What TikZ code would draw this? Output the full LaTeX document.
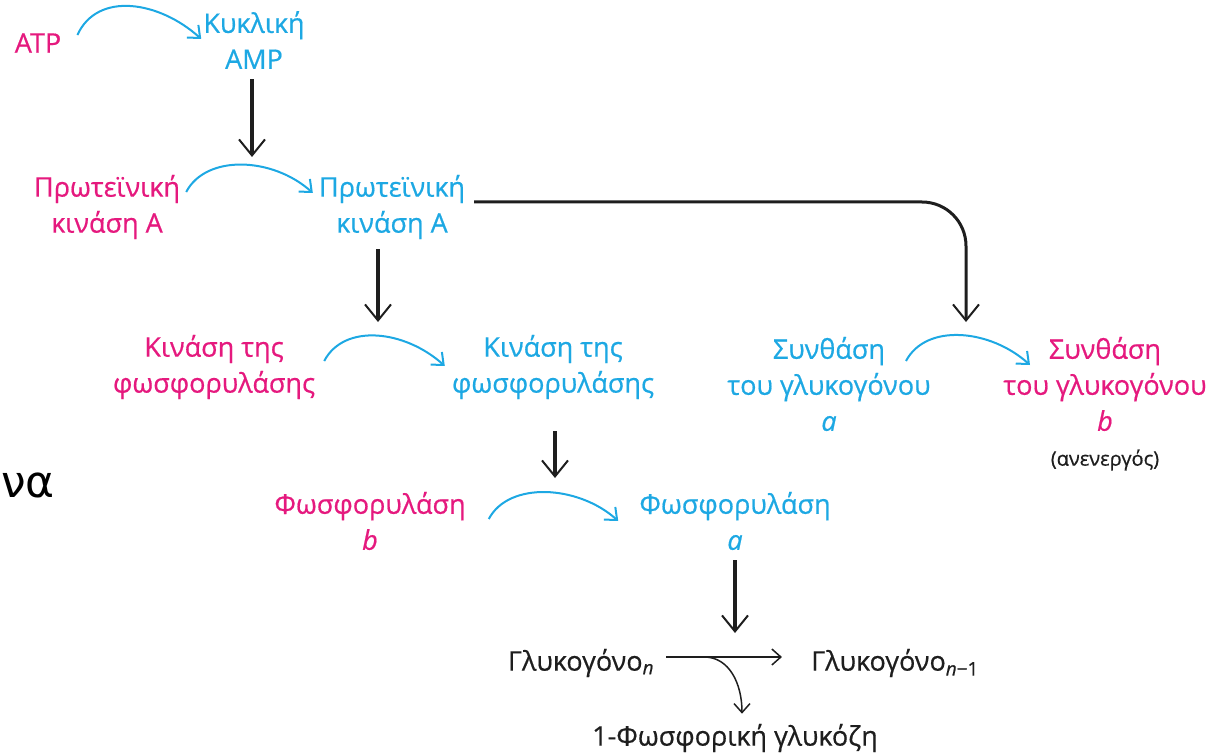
\documentclass[tikz,border=0pt]{standalone}
\usepackage{fontspec}
\setmainfont{Open Sans}[FakeBold=0.6]
\newfontfamily\handfont{DejaVu Sans}
\usetikzlibrary{arrows.meta}
\definecolor{inactcol}{RGB}{229,25,126}
\definecolor{actcol}{RGB}{29,168,227}
\definecolor{ink}{RGB}{30,30,30}
\begin{document}
\begin{tikzpicture}[x=1pt,y=-1pt,
  lbl/.style={align=center,inner sep=0pt,font=\fontsize{27}{36}\selectfont},
  on/.style={lbl,text=actcol},
  off/.style={lbl,text=inactcol},
  plain/.style={lbl,text=ink},
  conv/.style={actcol,line width=2pt,-{Straight Barb[length=10pt,width=17pt,line width=2pt]}},
  trigger/.style={ink,line width=4.5pt,-{Straight Barb[length=16pt,width=26pt,line width=2pt]}},
  pathway/.style={ink,line width=3pt,-{Straight Barb[length=16pt,width=26pt,line width=2pt]}},
  flow/.style={ink,line width=1.5pt,-{Straight Barb[length=9pt,width=16pt,line width=1.5pt]}},
]
\useasboundingbox (0,0) rectangle (1219,754);

% labels
\node[off] (atp) at (38,43) {ATP};
\node[on] (camp) at (254,40) {Κυκλική\\AMP};
\node[off] (pkai) at (107,207) {Πρωτεϊνική\\κινάση Α};
\node[on] (pkaa) at (392,207) {Πρωτεϊνική\\κινάση Α};
\node[off] (phki) at (214,367) {Κινάση της\\φωσφορυλάσης};
\node[on] (phka) at (553,367) {Κινάση της\\φωσφορυλάσης};
\node[on] (gsa) at (829,384) {Συνθάση\\του γλυκογόνου\\\textit{a}};
\node[off] (gsb) at (1105,384) {Συνθάση\\του γλυκογόνου\\\textit{b}};
\node[plain,font=\fontsize{20}{24}\selectfont] (inact) at (1105,460) {(ανενεργός)};
\node[off] (phb) at (370,521) {Φωσφορυλάση\\\textit{b}};
\node[on] (pha) at (735,521) {Φωσφορυλάση\\\textit{a}};
\node[plain] (gn) at (581,663) {Γλυκογόνο\textsubscript{\textit{n}}};
\node[plain] (gn1) at (895,663) {Γλυκογόνο\textsubscript{\textit{n}−1}};
\node[plain] (g1p) at (735,738) {1-Φωσφορική γλυκόζη};
\node[text=black,font=\handfont\fontsize{44}{50}\selectfont,anchor=base west,inner sep=0pt] (frag) at (1,497) {να};

% activation steps (blue)
\draw[conv] ([shift={(16,-8)}]atp.east) .. controls +(20,-44) and +(-42,-38) .. ([shift={(-2,-1)}]camp.west);
\draw[conv] ([shift={(6,-15)}]pkai.east) .. controls +(20,-38) and +(-40,-36) .. ([shift={(-6,-14)}]pkaa.west);
\draw[conv] ([shift={(9,-6)}]phki.east) .. controls +(20,-38) and +(-40,-36) .. ([shift={(-7,-1)}]phka.west);
\draw[conv] ([shift={(77,-23)}]gsa.center) .. controls +(20,-38) and +(-40,-36) .. ([shift={(-75,-19)}]gsb.center);
\draw[conv] ([shift={(23,-2)}]phb.east) .. controls +(20,-38) and +(-40,-36) .. ([shift={(-21,0)}]pha.west);

% cascade arrows
\coordinate (k1) at (252,157);
\coordinate (k2) at (378,322);
\coordinate (k3) at (555,478);
\coordinate (k4) at (735,633);
\coordinate (k5) at (966,322);
\draw[trigger] (k1 |- camp.south) ++(0,10) -- (k1);
\draw[trigger] (k2 |- pkaa.south) ++(0,10) -- (k2);
\draw[trigger] (k3 |- phka.south) ++(0,32) -- (k3);
\draw[trigger] (k4 |- pha.south) ++(0,10) -- (k4);
\draw[pathway,rounded corners=44pt] ([shift={(9,-5)}]pkaa.east) -| (k5);

% glycogen breakdown
\draw[flow] ([shift={(12,-6)}]gn.east) -- ([shift={(-29,-6)}]gn1.west);
\coordinate (br) at ([shift={(50,-6)}]gn.east);
\draw[flow] (br) .. controls +(25,0) and +(0,-30) .. ([shift={(7,-10)}]g1p.north);
\end{tikzpicture}
\end{document}
